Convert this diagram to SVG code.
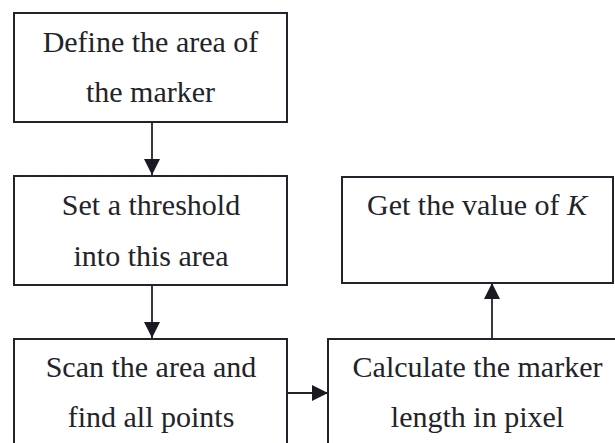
<svg xmlns="http://www.w3.org/2000/svg" width="615" height="443" viewBox="0 0 615 443">
<defs>
<style>
.box{fill:#ffffff;stroke:#23232e;stroke-width:2}
.t{font-family:"Liberation Serif","Times New Roman",serif;font-size:30px;fill:#23232a;text-anchor:middle}
.c{stroke:#23232e;stroke-width:1.8;fill:none}
</style>
<marker id="ah" markerUnits="userSpaceOnUse" markerWidth="16" markerHeight="16" viewBox="0 0 16 16" refX="16" refY="8" orient="auto">
<path d="M0,0 L16,8 L0,16 Z" fill="#1a1a22"/>
</marker>
</defs>
<rect width="615" height="443" fill="#ffffff"/>
<g id="connectors">
<line class="c" x1="152" y1="122" x2="152" y2="175" marker-end="url(#ah)"/>
<line class="c" x1="152" y1="285" x2="152" y2="338" marker-end="url(#ah)"/>
<line class="c" x1="287" y1="393" x2="328" y2="393" marker-end="url(#ah)"/>
<line class="c" x1="492" y1="339" x2="492" y2="283" marker-end="url(#ah)"/>
</g>
<g id="node-define">
<rect class="box" x="14" y="13" width="273" height="109"/>
<text class="t" x="150.5" y="52">Define the area of</text>
<text class="t" x="150.5" y="102">the marker</text>
</g>
<g id="node-threshold">
<rect class="box" x="14" y="176" width="273" height="109"/>
<text class="t" x="151" y="215">Set a threshold</text>
<text class="t" x="151" y="266">into this area</text>
</g>
<g id="node-getk">
<rect class="box" x="342" y="177" width="271" height="106"/>
<text class="t" x="477" y="215">Get the value of <tspan font-style="italic">K</tspan></text>
</g>
<g id="node-scan">
<rect class="box" x="14" y="339" width="273" height="115"/>
<text class="t" x="151" y="377">Scan the area and</text>
<text class="t" x="151" y="427">find all points</text>
</g>
<g id="node-calc">
<rect class="box" x="328" y="339" width="300" height="115"/>
<text class="t" x="477.5" y="377">Calculate the marker</text>
<text class="t" x="477.5" y="427">length in pixel</text>
</g>
</svg>
